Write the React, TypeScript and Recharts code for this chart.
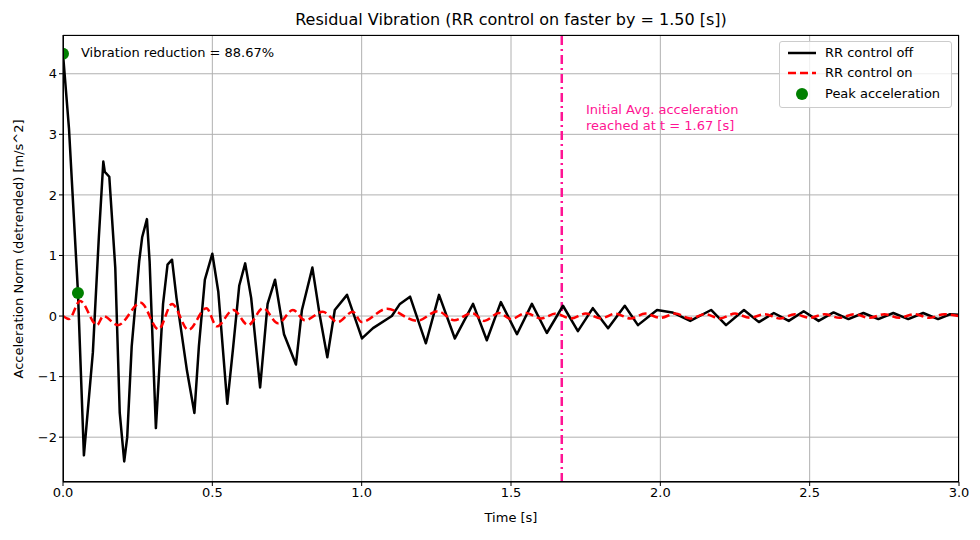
import { ComposedChart, Line, Scatter, XAxis, YAxis, CartesianGrid, ReferenceLine } from 'recharts'

// RR control off (black) — time [s], acceleration [m/s^2]
const offTime = [
  0, 0.02, 0.05, 0.07, 0.1, 0.12, 0.135, 0.14, 0.155, 0.175, 0.19, 0.205, 0.215, 0.23, 0.255, 0.265, 0.281,
  0.29, 0.311, 0.335, 0.35, 0.365, 0.38, 0.415, 0.44, 0.455, 0.475, 0.5, 0.52, 0.55, 0.57, 0.59, 0.61, 0.63,
  0.66, 0.685, 0.71, 0.74, 0.78, 0.8, 0.835, 0.86, 0.885, 0.91, 0.951, 1.001, 1.038, 1.101, 1.128, 1.162,
  1.215, 1.259, 1.312, 1.373, 1.419, 1.466, 1.52, 1.57, 1.62, 1.674, 1.724, 1.774, 1.825, 1.881, 1.925, 1.989,
  2.04, 2.1, 2.17, 2.22, 2.28, 2.33, 2.38, 2.43, 2.48, 2.53, 2.58, 2.63, 2.68, 2.73, 2.78, 2.83, 2.88, 2.93,
  2.97, 3.0,
]
const offValue = [
  4.33, 3.1, 0.4, -2.3, -0.6, 1.3, 2.55, 2.38, 2.3, 0.8, -1.6, -2.4, -2.0, -0.5, 0.9, 1.3, 1.6,
  0.9, -1.85, 0.2, 0.85, 0.93, 0.3, -0.9, -1.6, -0.5, 0.6, 1.03, 0.4, -1.45, -0.5, 0.5, 0.87, 0.3,
  -1.18, 0.2, 0.6, -0.3, -0.8, 0.1, 0.8, 0.0, -0.68, 0.1, 0.35, -0.37, -0.2, 0.0, 0.2,
  0.32, -0.45, 0.35, -0.37, 0.2, -0.4, 0.23, -0.3, 0.2, -0.28, 0.17, -0.25, 0.13, -0.2, 0.17, -0.15, 0.1,
  0.06, -0.08, 0.1, -0.15, 0.1, -0.1, 0.05, -0.08, 0.08, -0.08, 0.06, -0.05, 0.05, -0.05, 0.05, -0.05, 0.05, -0.05,
  0.03, 0.02,
]

// RR control on (red dashed)
const onTime = [
  0, 0.02, 0.057, 0.114, 0.135, 0.184, 0.26, 0.32, 0.365, 0.42, 0.48, 0.515, 0.57, 0.62, 0.67, 0.72, 0.77,
  0.81, 0.87, 0.92, 0.97, 1.0, 1.085, 1.185, 1.255, 1.31, 1.37, 1.41, 1.46, 1.5, 1.55, 1.6, 1.65, 1.7, 1.75,
  1.8, 1.85, 1.9, 1.95, 2.0, 2.05, 2.1, 2.15, 2.2, 2.25, 2.3, 2.35, 2.4, 2.45, 2.5, 2.55, 2.6, 2.65, 2.7,
  2.75, 2.8, 2.85, 2.9, 2.95, 3.0,
]
const onValue = [
  0, -0.05, 0.25, -0.15, 0, -0.15, 0.22, -0.22, 0.2, -0.23, 0.13, -0.17, 0.1, -0.15, 0.13, -0.12, 0.1,
  -0.07, 0.07, -0.1, 0.07, -0.1, 0.12, -0.08, 0.08, -0.07, 0.05, -0.08, 0.05, -0.05, 0.05, -0.04, 0.04, -0.04, 0.04,
  -0.04, 0.04, -0.04, 0.04, -0.03, 0.04, -0.04, 0.03, -0.04, 0.04, -0.03, 0.03, -0.04, 0.03, -0.03, 0.03, -0.03, 0.03, -0.03,
  0.03, -0.03, 0.03, -0.03, 0.03, 0.0,
]

const peakTime = [0, 0.05]
const peakValue = [4.33, 0.38]

const xTicks = [0, 0.5, 1, 1.5, 2, 2.5, 3]
const yTicks = [-2, -1, 0, 1, 2, 3, 4]
const reachedAt = 1.67

const offData = offTime.map((t, i) => ({ t, v: offValue[i] }))
const onData = onTime.map((t, i) => ({ t, v: onValue[i] }))
const peakData = peakTime.map((t, i) => ({ t, v: peakValue[i] }))

const font = 'DejaVu Sans, sans-serif'
const tick = { fill: '#000', fontSize: 13, fontFamily: font }
const pink = '#ff1493'

export default function App() {
  return (
    <div style={{ position: 'absolute', left: 0, top: 0, width: 980, height: 540, background: '#fff', fontFamily: font }}>
      <ComposedChart width={980} height={540} margin={{ top: 35, right: 21, left: 0, bottom: 0 }}>
        <CartesianGrid stroke="#b0b0b0" strokeWidth={1} />
        <XAxis
          type="number" dataKey="t" domain={[0, 3]} ticks={xTicks} allowDataOverflow
          tick={tick} tickSize={4} stroke="#000" height={58}
          tickFormatter={(v: number) => v.toFixed(1)}
          label={{ value: 'Time [s]', position: 'insideBottom', offset: 18, fill: '#000', fontSize: 13, fontFamily: font }}
        />
        <YAxis
          type="number" dataKey="v" domain={[-2.74, 4.64]} ticks={yTicks} allowDataOverflow
          tick={tick} tickSize={4} stroke="#000" width={63}
          tickFormatter={(v: number) => (v < 0 ? '\u2212' + Math.abs(v) : String(v))}
          label={{ value: 'Acceleration Norm (detrended) [m/s^2]', angle: -90, position: 'insideLeft', offset: 18, dy: 120, fill: '#000', fontSize: 13, fontFamily: font }}
        />
        <ReferenceLine x={reachedAt} stroke={pink} strokeWidth={2.5} strokeDasharray="9 4 2 4" />
        <Line data={offData} dataKey="v" type="linear" stroke="#000" strokeWidth={2.5} strokeLinejoin="round" dot={false} isAnimationActive={false} />
        <Line data={onData} dataKey="v" type="monotone" stroke="#ff0000" strokeWidth={2.5} strokeDasharray="8 4" dot={false} isAnimationActive={false} />
        <Scatter data={peakData} dataKey="v" fill="#008000" shape={(p: any) => <circle cx={p.cx} cy={p.cy} r={6} fill="#008000" />} isAnimationActive={false} />
      </ComposedChart>
      {/* frame */}
      <div style={{ position: 'absolute', left: 63, top: 35, width: 896, height: 447, border: '1px solid #000', boxSizing: 'border-box', pointerEvents: 'none' }} />
      <div style={{ position: 'absolute', left: 63, width: 896, top: 10, textAlign: 'center', fontSize: 16 }}>
        Residual Vibration (RR control on faster by = 1.50 [s])
      </div>
      <div style={{ position: 'absolute', left: 81, top: 45, fontSize: 13 }}>Vibration reduction = 88.67%</div>
      <div style={{ position: 'absolute', left: 586, top: 102, fontSize: 13, color: pink, lineHeight: '16px' }}>
        Initial Avg. acceleration<br />reached at t = 1.67 [s]
      </div>
      <div style={{ position: 'absolute', left: 779, top: 41, width: 173, height: 67, border: '1px solid #ccc', borderRadius: 3, background: 'rgba(255,255,255,0.8)', fontSize: 13, boxSizing: 'border-box' }}>
        <div style={{ position: 'absolute', left: 8, top: 3, display: 'flex', alignItems: 'center' }}>
          <svg width={28} height={10}><line x1={0} y1={5} x2={28} y2={5} stroke="#000" strokeWidth={2.5} /></svg>
          <span style={{ marginLeft: 9 }}>RR control off</span>
        </div>
        <div style={{ position: 'absolute', left: 8, top: 23, display: 'flex', alignItems: 'center' }}>
          <svg width={28} height={10}><line x1={0} y1={5} x2={28} y2={5} stroke="#f00" strokeWidth={2.5} strokeDasharray="8 4" /></svg>
          <span style={{ marginLeft: 9 }}>RR control on</span>
        </div>
        <div style={{ position: 'absolute', left: 8, top: 44, display: 'flex', alignItems: 'center' }}>
          <svg width={28} height={14}><circle cx={14} cy={7} r={6} fill="#008000" /></svg>
          <span style={{ marginLeft: 9 }}>Peak acceleration</span>
        </div>
      </div>
    </div>
  )
}
